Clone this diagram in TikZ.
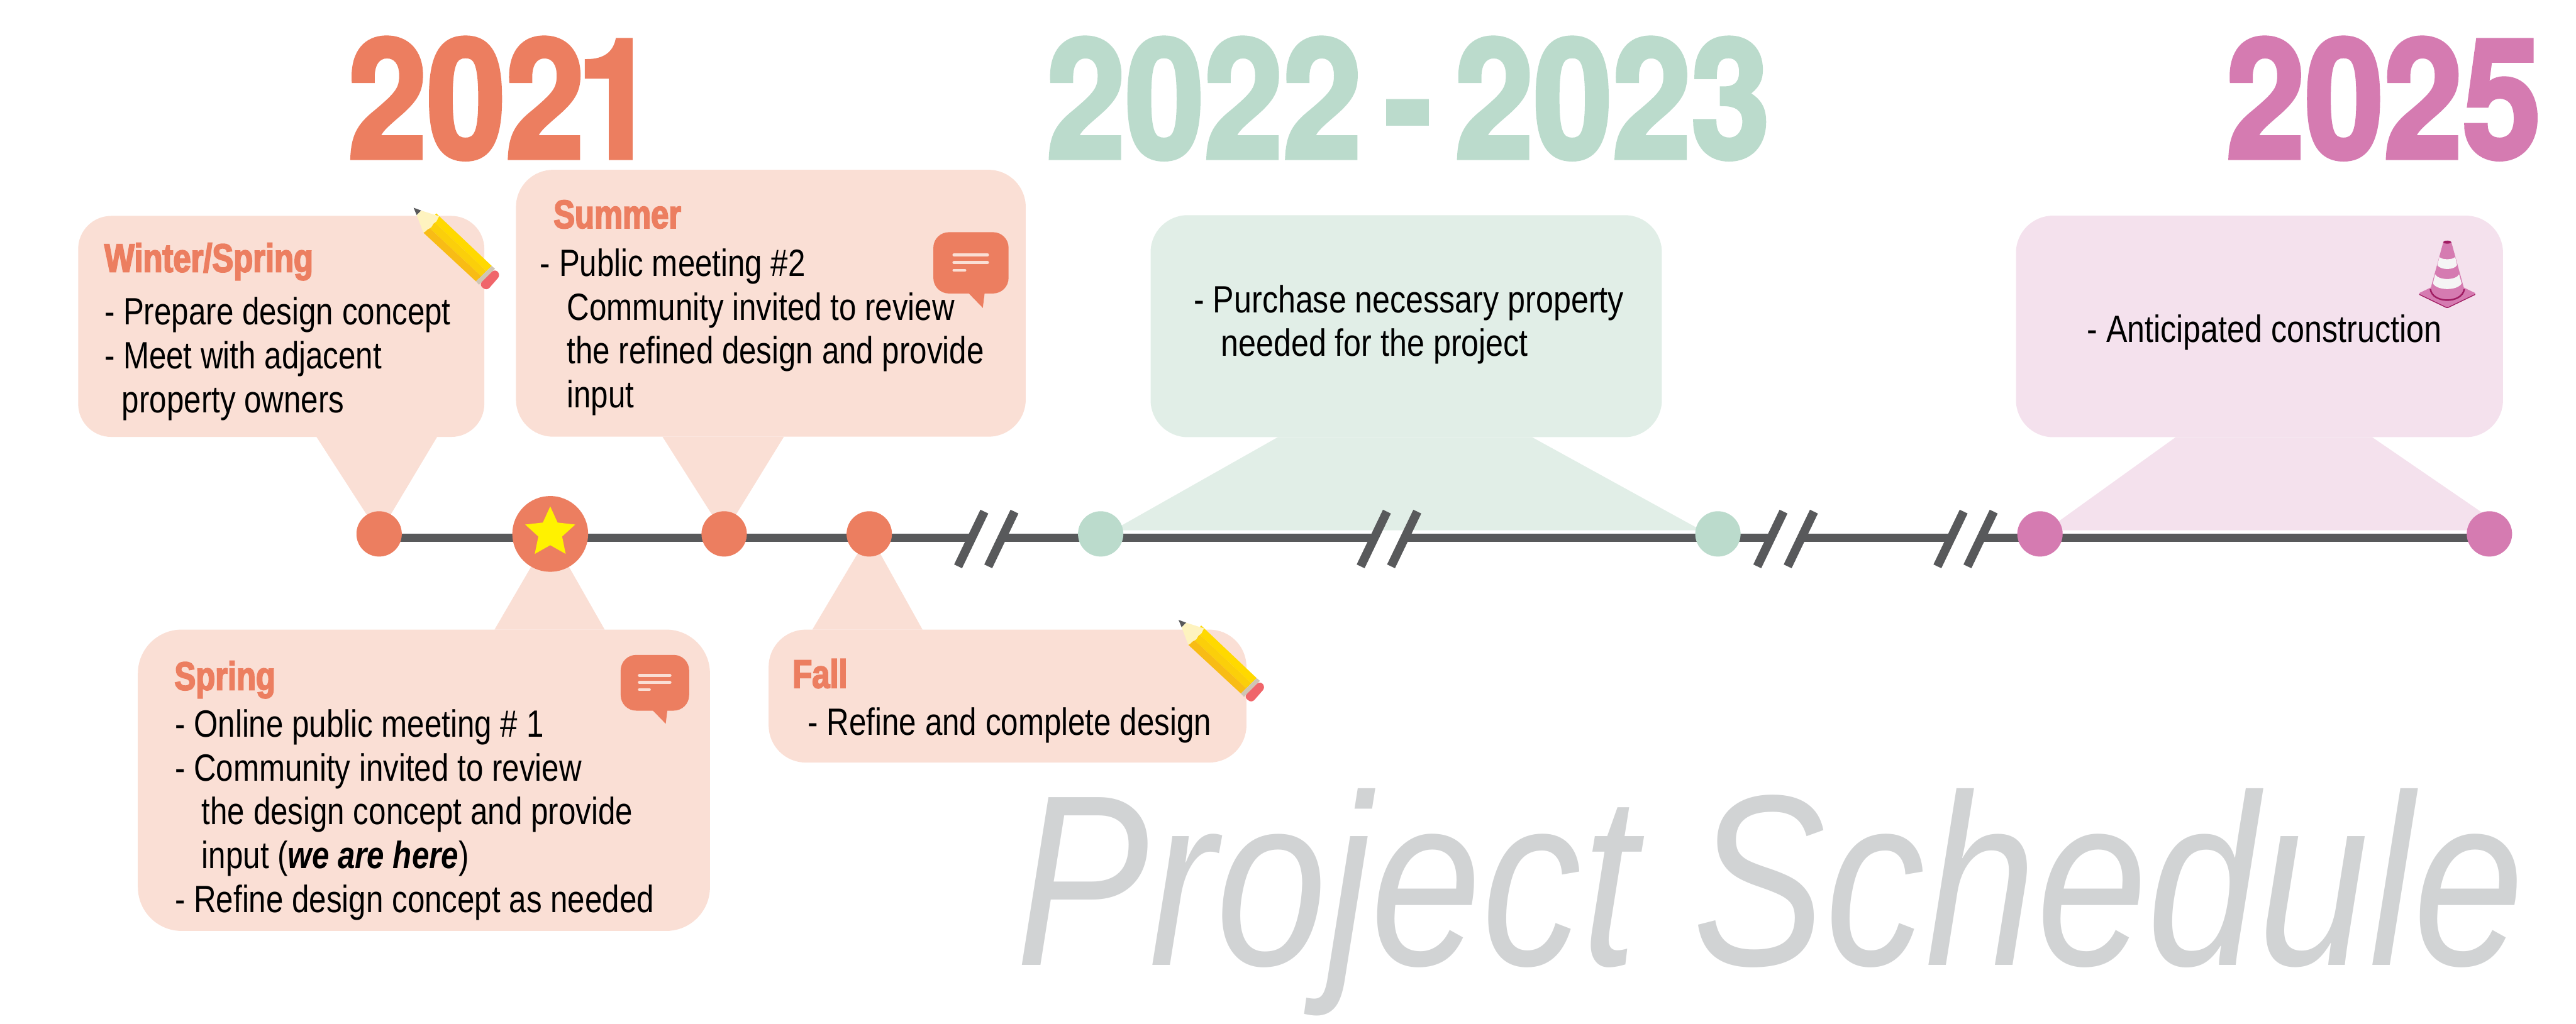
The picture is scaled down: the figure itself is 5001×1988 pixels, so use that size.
\documentclass[tikz,border=0pt]{standalone}
\usepackage{fontspec}
\usetikzlibrary{arrows,backgrounds,calc,positioning,shapes}
\newfontfamily\bodyfont[FakeStretch=.83,BoldFeatures={FakeBold=1.2}]{Liberation Sans}
\newfontfamily\narrowfont[FakeStretch=.815,BoldFeatures={FakeBold=1.2}]{Liberation Sans}
\newfontfamily\headfont[FakeStretch=.8,BoldFeatures={FakeBold=3}]{Liberation Sans}
\newfontfamily\yearfont[FakeStretch=.85,BoldFeatures={FakeBold=2.4}]{TeX Gyre Heros}
\newfontfamily\titlefont[FakeStretch=.818]{Liberation Sans}
\definecolor{salmon}{HTML}{EC7E60}
\definecolor{salmonpale}{HTML}{FADFD5}
\definecolor{mint}{HTML}{BBDBCC}
\definecolor{mintpale}{HTML}{E1EEE7}
\definecolor{orchid}{HTML}{D57BB1}
\definecolor{orchidpale}{HTML}{F4E1ED}
\definecolor{orchiddark}{HTML}{A01C62}
\definecolor{axisgray}{HTML}{58595B}
\definecolor{titlegray}{HTML}{D1D3D4}
\definecolor{leadyellow}{HTML}{FFD900}
\definecolor{midyellow}{HTML}{FBCF0A}
\definecolor{lowyellow}{HTML}{F8BC15}
\definecolor{woodcream}{HTML}{FEF3BF}
\definecolor{ferrule}{HTML}{CFC5B4}
\definecolor{eraser}{HTML}{F0656A}
\tikzset{
pencil/.pic={
\fill[axisgray] (0,0) -- (15,5.5) -- (6,14.5) -- cycle;
\fill[leadyellow] (44,11) -- (151.6,113) -- (141.4,123) -- (34,22) -- cycle;
\fill[midyellow] (34,22) -- (141.4,123) -- (131.2,133) -- (24,33) -- cycle;
\fill[lowyellow] (24,33) -- (131.2,133) -- (121,143) -- (19,48.5) -- cycle;
\fill[woodcream] (15,5.5) -- (49.6,16.5) .. controls (46,21) and (46,27) .. (41,29) .. controls (36,31) and (37,38) .. (31,40) .. controls (25,42) and (25,46) .. (19,48.5) -- (6,14.5) -- cycle;
\fill[ferrule] (151.6,113) -- (158,118.5) -- (127,149.5) -- (121,143) -- cycle;
\fill[eraser,rounded corners=.08cm] (158,118.5) -- (169,130.5) -- (142,161.5) -- (127,149.5) -- cycle;
},
speech/.pic={
\fill[salmon,rounded corners=.3cm] (0,0) rectangle (146,119);
\fill[salmon] (65,115) -- (96,147) -- (100,115) -- cycle;
\draw[salmonpale,line width=.06cm,line cap=round] (40,44) -- (105,44) (40,59) -- (105,59) (40,74) -- (61,74);
},
cone/.pic={
\fill[orchiddark,rounded corners=.03cm] (45,132) -- (101,105) -- (157,132) -- (101,159) -- cycle;
\fill[orchid,rounded corners=.03cm] (45,130) -- (101,103) -- (157,130) -- (101,157) -- cycle;
\fill[orchid] (93.3,30.3) -- (68.3,121.7) .. controls (72,152) and (130,152) .. (134,121.7) -- (109,30.3) -- cycle;
\draw[orchiddark,line width=.03cm] (68.3,121.7) .. controls (72,150) and (130,150) .. (134,121.7);
\fill[orchid] (69.5,118) .. controls (72,143) and (130,143) .. (132.5,118) -- cycle;
\fill[orchiddark] (101,30.3) ellipse (8 and 3);
\fill[black!4!white] (86,59) .. controls (90,65) and (112,65) .. (116.5,59) -- (120,75) .. controls (114,85) and (88,85) .. (81.7,75) -- cycle;
\fill[black!4!white] (77.3,92.7) .. controls (84,105) and (118,105) .. (124,92.7) -- (129,110.7) .. controls (120,125) and (82,125) .. (73.3,110.7) -- cycle;
}
}
\begin{document}
\begin{tikzpicture}[x=0.01cm,y=-0.01cm]
\tikzstyle{dot}=[shape=circle,inner sep=0pt,minimum size=.88cm]
\tikzstyle{bubble}=[shape=rectangle,inner sep=0pt,rounded corners=.72cm]
\tikzstyle{season}=[anchor=base west,inner sep=0pt,text=salmon,font=\headfont\bfseries\fontsize{22}{24}\selectfont]
\tikzstyle{bodytext}=[anchor=base west,inner sep=0pt,align=left,text=black,font=\bodyfont\fontsize{21}{24.2}\selectfont]
\tikzstyle{salmontext}=[bodytext,font=\narrowfont\fontsize{21}{24.2}\selectfont]
\tikzstyle{year}=[anchor=base west,inner sep=0pt,font=\yearfont\bfseries\fontsize{92}{100}\selectfont]
\tikzstyle{timeline}=[axisgray,line width=.17cm]
\useasboundingbox (0,0) rectangle (5001,1988);

\node[dot,fill=salmon]      (A) at (736,1037)  {};
\node[dot,fill=salmon,minimum size=1.47cm] (S) [right of=A,node distance=3.32cm] {};
\node[dot,fill=salmon]      (B) [right of=S,node distance=3.375cm] {};
\node[dot,fill=salmon]      (C) [right of=B,node distance=2.815cm] {};
\node[dot,fill=mint]        (D) [right of=C,node distance=4.49cm] {};
\node[dot,fill=mint]        (E) [right of=D,node distance=11.976cm] {};
\node[dot,fill=orchid]      (F) [right of=E,node distance=6.249cm] {};
\node[dot,fill=orchid]      (G) [right of=F,node distance=8.72cm] {};
\node[star,star points=5,star point ratio=2.1,fill=yellow,inner sep=0pt,minimum size=1.02cm] (St) [above of=S,node distance=.024cm] {};

\foreach \brk/\xpos in {Ba/1884.5,Bb/1943,Bc/2666,Bd/2725,Be/3436,Bf/3495,Bg/3785.7,Bh/3844}
  \coordinate (\brk) at (\xpos,1044.5);

\begin{pgfonlayer}{background}
\node[bubble,fill=salmonpale,rounded corners=.64cm,minimum width=7.88cm,minimum height=4.29cm] (W) at (546,634) {};
\node[bubble,fill=salmonpale,minimum width=9.89cm,minimum height=5.18cm] (U) at (1496.5,589) {};
\node[bubble,fill=salmonpale,rounded corners=.85cm,minimum width=11.1cm,minimum height=5.85cm] (P) at (823,1515.5) {};
\node[bubble,fill=salmonpale,minimum width=9.27cm,minimum height=2.58cm] (L) at (1956,1352) {};
\node[bubble,fill=mintpale,minimum width=9.92cm,minimum height=4.31cm] (M) at (2730,633.5) {};
\node[bubble,fill=orchidpale,minimum width=9.45cm,minimum height=4.30cm] (O) at (4386.5,634) {};
\fill[salmonpale] (614,848) -- (A.center) -- (849,848) -- cycle;
\fill[salmonpale] (1286,848) -- (B.center) -- (1522,848) -- cycle;
\fill[salmonpale] (960,1223) -- (S.center) -- (1174,1223) -- cycle;
\fill[salmonpale] (1577,1223) -- (C.center) -- (1791,1223) -- cycle;
\fill[mintpale] (2481,849) -- ($(D)+(24,-7)$) -- ($(E)+(-32,-7)$) -- (2974,849) -- cycle;
\fill[orchidpale] (4224,849) -- ($(F)+(12,-7)$) -- ($(G)+(36,-7)$) -- (4605,849) -- cycle;
\draw[timeline] (736,1044.5) -- (Ba);
\draw[timeline] (Bb) -- (Bc);
\draw[timeline] (Bd) -- (Be);
\draw[timeline] (Bf) -- (Bg);
\draw[timeline] (Bh) -- (4830,1044.5);
\end{pgfonlayer}

\foreach \brk in {Ba,Bb,Bc,Bd,Be,Bf,Bg,Bh}
  \draw[timeline] ($(\brk)+(26.5,-50.8)$) -- ($(\brk)+(-24.5,55.5)$);

\node[year,text=salmon] (Ya) at (675,307) {202\kern-4pt 1};
\node[year,text=mint]   (Yb) at (2031,307) {2022\kern-9pt{} - \kern-9pt{}2023};
\node[year,text=orchid] (Yc) at (4321,307) {2025};

\node[season] (Wt) at (202,528)   {Winter/Spring};
\node[season] (Ut) at (1074,443)  {Summer};
\node[season] (Pt) at (338,1340)  {Spring};
\node[season] (Lt) at (1538,1336) {Fall};

\node[salmontext] (Wb) at (202,801) {- Prepare design concept\\- Meet with adjacent\\\hspace*{9.7pt}property owners};
\node[salmontext] (Ub) at (1048,792) {- Public meeting \#2\\\hspace*{14.8pt}Community invited to review\\\hspace*{14.8pt}the refined design and provide\\\hspace*{14.8pt}input};
\node[salmontext] (Pb) at (339,1772) {- Online public meeting \# 1\\- Community invited to review\\\hspace*{14.8pt}the design concept and provide\\\hspace*{14.8pt}input ({\bfseries\itshape we are here})\\- Refine design concept as needed};
\node[salmontext] (Lb) at (1568,1428) {- Refine and complete design};
\node[bodytext] (Mb) at (2317,692) {- Purchase necessary property\\\hspace*{15pt}needed for the project};
\node[bodytext] (Ob) at (4051,664.5) {- Anticipated construction};

\pic at (803,403.5) {pencil};
\pic at (2288,1204) {pencil};
\pic at (1812,451) {speech};
\pic[scale=.91] at (1205,1272) {speech};
\pic at (4650,440) {cone};

\node[anchor=base west,inner sep=0pt,text=titlegray,font=\titlefont\itshape\fontsize{134.7}{140}\selectfont] (T) at (1972,1875) {Project Schedule};
\end{tikzpicture}
\end{document}
